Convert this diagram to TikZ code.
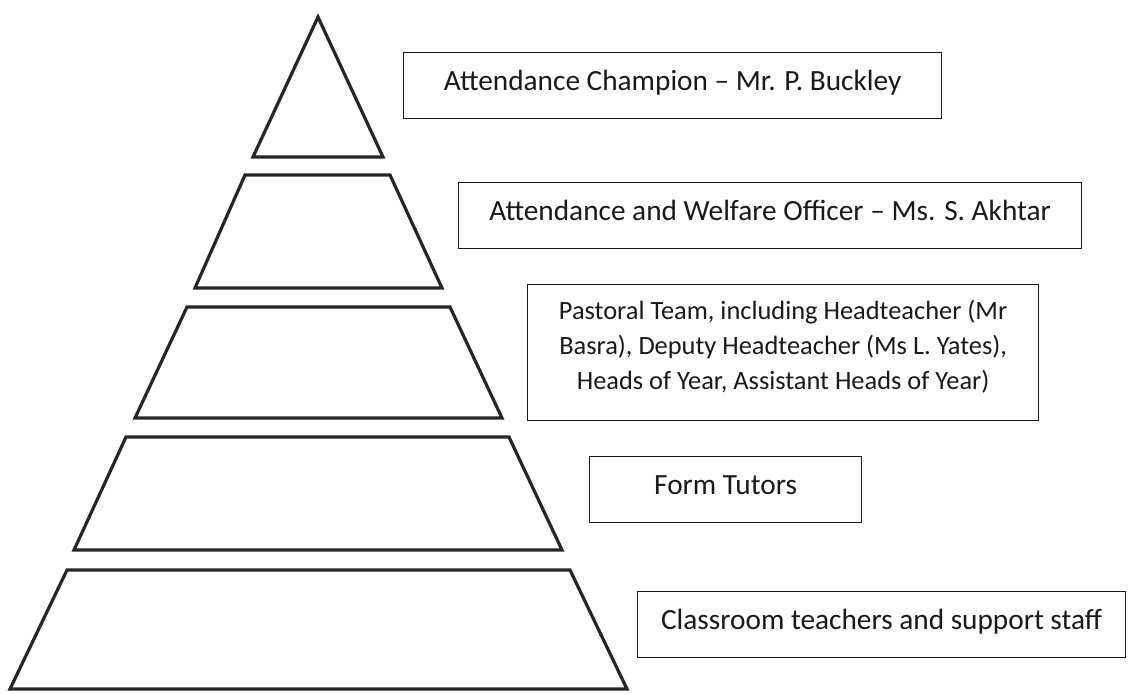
\documentclass[tikz,border=0pt]{standalone}
\usepackage{fontspec}
\setmainfont{Carlito}

\begin{document}
\begin{tikzpicture}[x=1pt,y=-1pt,
    tier/.style={draw=black!85,line width=3.2pt,line join=miter},
    rolebox/.style={draw=black!90,line width=1.2pt,anchor=north west,inner sep=0pt,
      minimum height=66pt,text height=30pt,text depth=20pt,text=black!90,
      font=\fontsize{29.3}{35}\selectfont}]
  \useasboundingbox (0,0) rectangle (1129,693);
  % pyramid: apex, then trapezoids top y/top left/top right/bottom y/bottom left/bottom right
  \draw[tier] (318,17) -- (383,157) -- (253,157) -- cycle;
  \foreach \ty/\tl/\tr/\by/\bl/\br in {175/245/390/288/195/442,
      307/187/450/418/135/502, 437/126/509/550/74/562, 570/67/570/689/10/627}
    \draw[tier] (\tl,\ty) -- (\tr,\ty) -- (\br,\by) -- (\bl,\by) -- cycle;

  % role boxes beside the tiers
  \node[rolebox,minimum width=538pt] (champion) at (403,52)
    {Attendance Champion – Mr. P. Buckley};
  \node[rolebox,minimum width=623pt] (welfare) at (458,182)
    {Attendance and Welfare Officer – Ms. S. Akhtar};
  \node[rolebox,text width=511pt,minimum height=136pt,align=flush center,
    text height=17pt,text depth=83pt,font=\fontsize{26.4}{35}\selectfont] (pastoral) at (527,284)
    {Pastoral Team, including Headteacher (Mr\\Basra), Deputy Headteacher (Ms L. Yates),\\Heads of Year, Assistant Heads of Year)};
  \node[rolebox,minimum width=272pt] (tutors) at (589,456) {Form Tutors};
  \node[rolebox,minimum width=488pt] (teachers) at (637,591)
    {Classroom teachers and support staff};
\end{tikzpicture}
\end{document}
